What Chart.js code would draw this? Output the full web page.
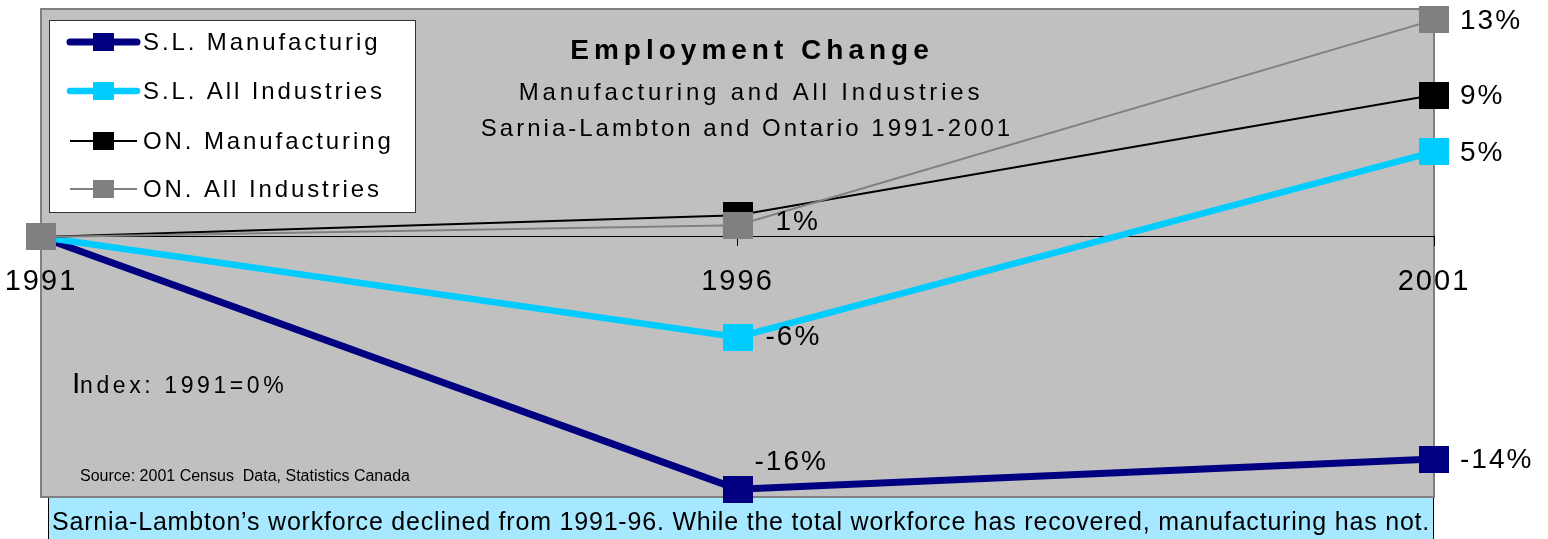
<!DOCTYPE html>
<html lang="en">
<head>
<meta charset="UTF-8">
<title>Employment Change</title>
<script src="https://cdn.jsdelivr.net/npm/chart.js"></script>
<style>
  body { margin: 0; background: #fff; }
  .chart-container { position: relative; width: 1548px; height: 539px; }
</style>
</head>
<body>
<div class="chart-container"><canvas id="employmentChart"></canvas></div>
<script>
  // values (index 1991 = 0%)
  const years = ['1991', '1996', '2001'];
  const slManufacturing = [0, -15.1, -13.3];
  const slAllIndustries = [0, -6.0, 5.1];
  const onManufacturing = [0, 1.3, 8.5];
  const onAllIndustries = [0, 0.7, 13.0];

  // printed point labels
  const slManufacturingLabels = ['', '-16%', '-14%'];
  const slAllIndustriesLabels = ['', '-6%', '5%'];
  const onManufacturingLabels = ['', '', '9%'];
  const onAllIndustriesLabels = ['', '1%', '13%'];

  const seriesNames = ['S.L. Manufacturig', 'S.L. All Industries', 'ON. Manufacturing', 'ON. All Industries'];

  const FONT = '"Liberation Sans", Arial, sans-serif';

  function markerImage(color, w, h) {
    const c = document.createElement('canvas');
    c.width = w;
    c.height = h;
    const g = c.getContext('2d');
    g.fillStyle = color;
    g.fillRect(0, 0, w, h);
    return c;
  }

  function makeDataset(label, data, color, width, order, pointLabels) {
    return {
      label: label,
      data: data,
      borderColor: color,
      backgroundColor: color,
      borderWidth: width,
      // the image sets the marker size; keep radius tiny so the layout doesn't pad for it
      pointStyle: markerImage(color, 30, 27),
      pointRadius: 1,
      pointHoverRadius: 1,
      pointBorderWidth: 0,
      tension: 0,
      clip: false,
      order: order,
      pointLabels: pointLabels
    };
  }

  // little nudges for the labels that don't sit to the right of their point
  const labelNudge = { '0-1': [17, -27], '1-1': [28, 0], '3-1': [38, -3] };

  const frame = {
    id: 'frame',
    beforeDraw(chart) {
      const { ctx, chartArea: a } = chart;
      ctx.save();
      // grey plot area
      ctx.fillStyle = '#c0c0c0';
      ctx.fillRect(a.left, a.top, a.width, a.height);
      ctx.strokeStyle = '#808080';
      ctx.lineWidth = 2;
      ctx.strokeRect(a.left, a.top, a.width, a.height);

      // comment box underneath
      ctx.fillStyle = '#a6e8ff';
      ctx.fillRect(48, a.bottom + 1, a.right - 48, 60);
      ctx.strokeStyle = '#000';
      ctx.lineWidth = 1;
      ctx.beginPath();
      ctx.moveTo(48.5, a.bottom + 1);
      ctx.lineTo(48.5, 539);
      ctx.moveTo(a.right - 0.5, a.bottom + 1);
      ctx.lineTo(a.right - 0.5, 539);
      ctx.stroke();
      ctx.fillStyle = '#000';
      ctx.font = '25px ' + FONT;
      ctx.letterSpacing = '0.8px';
      ctx.textBaseline = 'middle';
      ctx.fillText('Sarnia-Lambton\u2019s workforce declined from 1991-96. While the total workforce has recovered, manufacturing has not.', 52, 523);
      ctx.restore();
      // spacing for the year labels drawn by the axis
      ctx.letterSpacing = '2px';
    },
    beforeDatasetsDraw(chart) {
      const { ctx } = chart;
      ctx.letterSpacing = '0px';
      ctx.save();
      ctx.fillStyle = '#000';
      ctx.textAlign = 'center';
      ctx.textBaseline = 'middle';
      ctx.letterSpacing = '5px';
      ctx.font = 'bold 28px ' + FONT;
      ctx.fillText('Employment Change', 752, 51);
      ctx.font = '24px ' + FONT;
      ctx.letterSpacing = '3.8px';
      ctx.fillText('Manufacturing and All Industries', 751, 93);
      ctx.letterSpacing = '3px';
      ctx.fillText('Sarnia-Lambton and Ontario 1991-2001', 747, 129);

      ctx.textAlign = 'left';
      ctx.textBaseline = 'alphabetic';
      ctx.letterSpacing = '0px';
      ctx.font = '30px ' + FONT;
      ctx.fillText('I', 72, 393);
      ctx.letterSpacing = '3.6px';
      ctx.font = '23px ' + FONT;
      ctx.fillText('ndex: 1991=0%', 80, 393);

      ctx.letterSpacing = '0px';
      ctx.font = '16px ' + FONT;
      ctx.fillText('Source: 2001 Census  Data, Statistics Canada', 80, 481);
      ctx.restore();
    },
    afterDatasetsDraw(chart) {
      const { ctx } = chart;
      ctx.save();
      // point labels
      ctx.fillStyle = '#000';
      ctx.font = '28px ' + FONT;
      ctx.letterSpacing = '2px';
      ctx.textAlign = 'left';
      ctx.textBaseline = 'middle';
      chart.data.datasets.forEach((ds, di) => {
        const meta = chart.getDatasetMeta(di);
        meta.data.forEach((pt, i) => {
          const txt = ds.pointLabels[i];
          if (!txt) return;
          const n = labelNudge[di + '-' + i] || [26, 1];
          ctx.fillText(txt, pt.x + n[0], pt.y + n[1]);
        });
      });

      // legend box
      ctx.letterSpacing = '0px';
      ctx.fillStyle = '#fff';
      ctx.fillRect(49, 20, 366, 192);
      ctx.strokeStyle = '#333';
      ctx.lineWidth = 1;
      ctx.strokeRect(49.5, 20.5, 366, 192);
      const rows = [42, 91, 141, 189];
      chart.data.datasets.forEach((ds, di) => {
        const y = rows[di];
        ctx.strokeStyle = ds.borderColor;
        ctx.lineWidth = ds.borderWidth;
        ctx.lineCap = ds.borderWidth > 3 ? 'round' : 'butt';
        ctx.beginPath();
        ctx.moveTo(70, y);
        ctx.lineTo(137, y);
        ctx.stroke();
        ctx.fillStyle = ds.borderColor;
        ctx.fillRect(93, y - 9, 21, 18);
        ctx.fillStyle = '#000';
        ctx.font = '24px ' + FONT;
        ctx.letterSpacing = '2.9px';
        ctx.textBaseline = 'middle';
        ctx.fillText(ds.label, 143, y + 1);
        ctx.letterSpacing = '0px';
      });
      ctx.restore();
    }
  };

  new Chart(document.getElementById('employmentChart'), {
    type: 'line',
    data: {
      labels: years,
      datasets: [
        makeDataset(seriesNames[0], slManufacturing, '#000080', 7, 3, slManufacturingLabels),
        makeDataset(seriesNames[1], slAllIndustries, '#00ccff', 6.5, 2, slAllIndustriesLabels),
        makeDataset(seriesNames[2], onManufacturing, '#000000', 2, 1, onManufacturingLabels),
        makeDataset(seriesNames[3], onAllIndustries, '#808080', 2, 0, onAllIndustriesLabels)
      ]
    },
    options: {
      responsive: true,
      maintainAspectRatio: false,
      animation: false,
      layout: { padding: { left: 41, right: 114, top: 9, bottom: 42 } },
      plugins: {
        legend: { display: false },
        title: { display: false },
        tooltip: { enabled: false }
      },
      scales: {
        x: {
          position: { y: 0 },
          offset: false,
          border: { display: true, color: '#000', width: 1 },
          grid: { drawOnChartArea: false, drawTicks: true, tickLength: 9, color: '#000' },
          ticks: { color: '#000', font: { size: 29, family: FONT }, padding: 19, maxRotation: 0, autoSkip: false },
          afterFit(scale) {
            // the year labels may hang outside the plot, don't shrink it for them
            scale.paddingLeft = 0;
            scale.paddingRight = 0;
            scale.paddingTop = 0;
            scale.paddingBottom = 0;
          }
        },
        y: {
          display: false,
          min: -15.57,
          max: 13.65
        }
      }
    },
    plugins: [frame]
  });
</script>
</body>
</html>
